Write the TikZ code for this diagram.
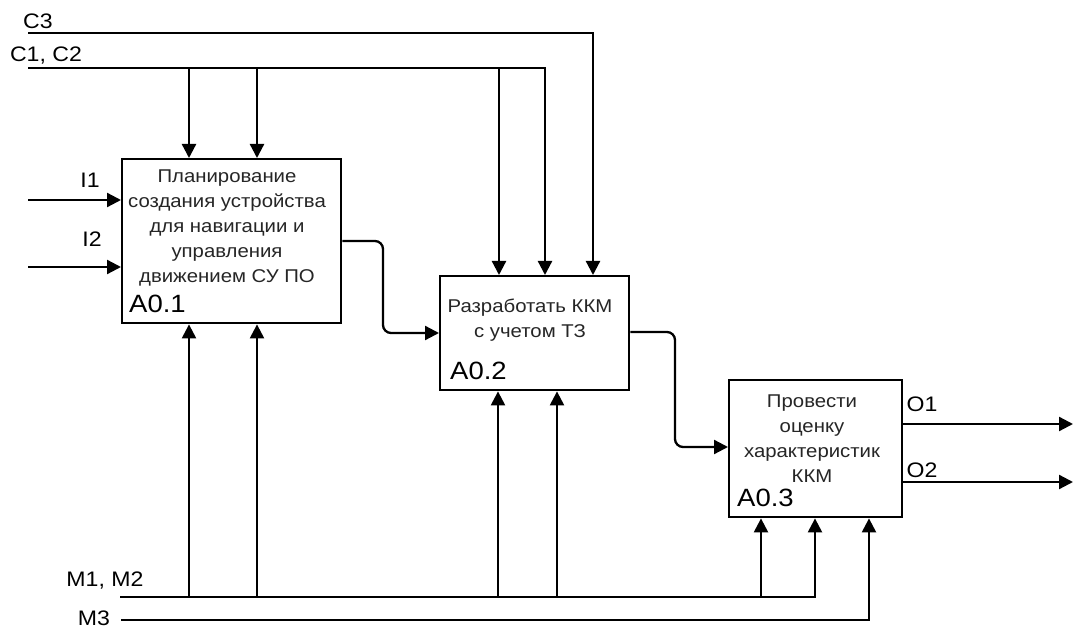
\documentclass[tikz,border=0pt]{standalone}
\usepackage{fontspec}
\setmainfont{Liberation Sans}[FakeStretch=1.1]
\usetikzlibrary{arrows.meta}
\begin{document}
\begin{tikzpicture}[x=1pt,y=-1pt,
  box/.style={draw, line width=2.4pt, anchor=north west, inner sep=0pt},
  ln/.style={line width=2.3pt},
  arr/.style={ln, -{Triangle[length=14pt,width=14pt]}},
  rc/.style={rounded corners=8pt},
  txt/.style={font=\fontsize{18.5}{25}\selectfont, align=center, inner sep=0pt, text=black!85},
  lab/.style={font=\fontsize{25}{28}\selectfont, inner sep=0pt, anchor=base west},
  io/.style={font=\fontsize{21}{24}\selectfont, inner sep=0pt, anchor=base}]
\useasboundingbox (0,0) rectangle (1074,628);
\fill[white] (0,0) rectangle (1074,628);

% boxes
\node[box, minimum width=219pt, minimum height=164pt] (a1) at (121,158) {};
\node[box, minimum width=189pt, minimum height=114pt] (a2) at (439,275) {};
\node[box, minimum width=173pt, minimum height=137pt] (a3) at (728,379) {};

\node[txt] (t1) at (227,228) {Планирование\\создания устройства\\для навигации и\\управления\\движением СУ ПО};
\node[lab] (l1) at (129,313) {A0.1};
\node[txt] (t2) at (530,320) {Разработать ККМ\\с учетом ТЗ};
\node[lab] (l2) at (450,380) {A0.2};
\node[txt] (t3) at (812,439) {Провести\\оценку\\характеристик\\ККМ};
\node[lab] (l3) at (737,506) {A0.3};

% controls
\coordinate (C3s) at (28,33);
\coordinate (C3e) at (593,33);
\draw[arr] (C3s) -- (C3e) -- (C3e |- a2.north);
\coordinate (C12s) at (28,68);
\coordinate (C12e) at (545,68);
\draw[arr] (C12s) -- (C12e) -- (C12e |- a2.north);
\coordinate (c1) at (189,68);
\coordinate (c2) at (257,68);
\coordinate (c3) at (499,68);
\draw[arr] (c1) -- (c1 |- a1.north);
\draw[arr] (c2) -- (c2 |- a1.north);
\draw[arr] (c3) -- (c3 |- a2.north);

% inputs
\coordinate (I1) at (28,200);
\coordinate (I2) at (28,267);
\draw[arr] (I1) -- (I1 -| a1.west);
\draw[arr] (I2) -- (I2 -| a1.west);

% flows between boxes
\draw[arr, rc] (a1.east |- 0,241) -- (383,241) -- (383,333) -- (a2.west |- 0,333);
\draw[arr, rc] (a2.east |- 0,332) -- (675,332) -- (675,447) -- (a3.west |- 0,447);

% outputs
\coordinate (O1e) at (1073,424);
\coordinate (O2e) at (1073,482);
\draw[arr] (a3.east |- O1e) -- (O1e);
\draw[arr] (a3.east |- O2e) -- (O2e);

% mechanisms
\coordinate (M12s) at (120,597);
\coordinate (M12e) at (815,597);
\draw[arr] (M12s) -- (M12e) -- (M12e |- a3.south);
\coordinate (m1) at (189,597);
\coordinate (m2) at (257,597);
\coordinate (m3) at (498,597);
\coordinate (m4) at (557,597);
\coordinate (m5) at (761,597);
\draw[arr] (m1) -- (m1 |- a1.south);
\draw[arr] (m2) -- (m2 |- a1.south);
\draw[arr] (m3) -- (m3 |- a2.south);
\draw[arr] (m4) -- (m4 |- a2.south);
\draw[arr] (m5) -- (m5 |- a3.south);
\coordinate (M3s) at (121,620);
\coordinate (M3e) at (869,620);
\draw[arr] (M3s) -- (M3e) -- (M3e |- a3.south);

% labels
\node[io] (lC3) at (38,29) {C3};
\node[io] (lC12) at (46,62) {C1, C2};
\node[io] (lI1) at (90,188) {I1};
\node[io] (lI2) at (92,247) {I2};
\node[io] (lO1) at (922,411) {O1};
\node[io] (lO2) at (922,477) {O2};
\node[io] (lM12) at (105,586) {M1, M2};
\node[io] (lM3) at (94,625) {M3};
\end{tikzpicture}
\end{document}
